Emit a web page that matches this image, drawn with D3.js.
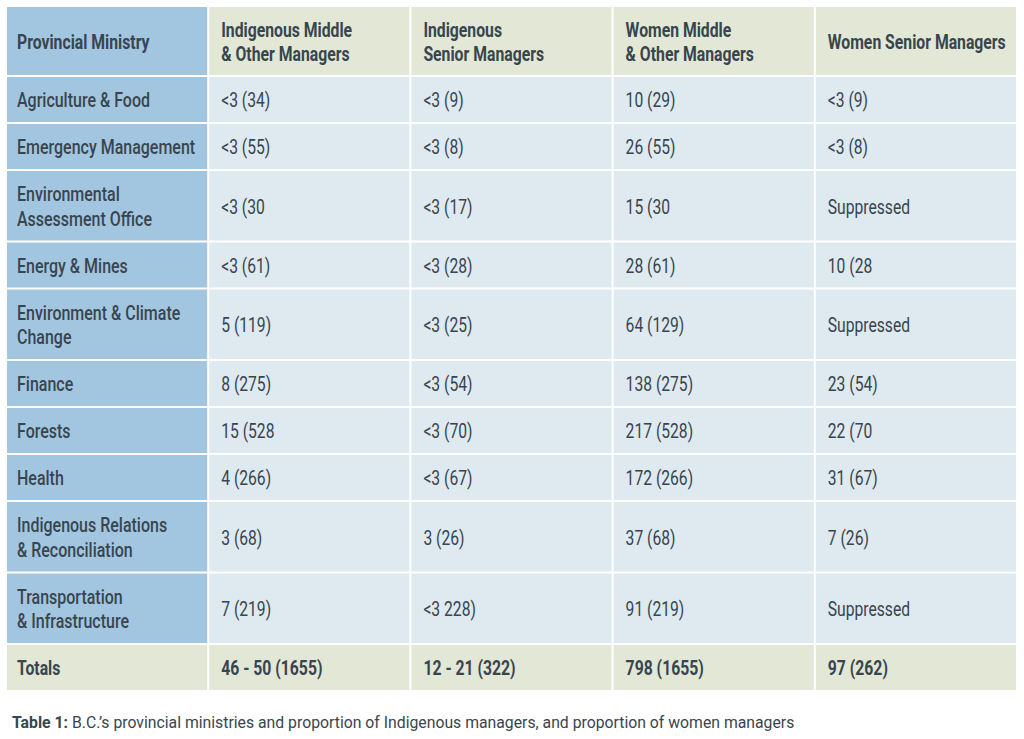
<!DOCTYPE html>
<html>
<head>
<meta charset="utf-8">
<script src="https://cdn.jsdelivr.net/npm/d3@7"></script>
<style>
  html, body { margin: 0; padding: 0; background: #ffffff; }
  svg { display: block; }
</style>
</head>
<body>
<svg id="chart" width="1024" height="739"></svg>
<script>
// ---- Data ----
const columns = ["Provincial Ministry", "Indigenous Middle\n& Other Managers", "Indigenous\nSenior Managers", "Women Middle\n& Other Managers", "Women Senior Managers"];
const ministries = ["Agriculture & Food", "Emergency Management", "Environmental\nAssessment Office", "Energy & Mines", "Environment & Climate\nChange", "Finance", "Forests", "Health", "Indigenous Relations\n& Reconciliation", "Transportation\n& Infrastructure"];
const indigenousMiddle = ["<3 (34)", "<3 (55)", "<3 (30", "<3 (61)", "5 (119)", "8 (275)", "15 (528", "4 (266)", "3 (68)", "7 (219)"];
const indigenousSenior = ["<3 (9)", "<3 (8)", "<3 (17)", "<3 (28)", "<3 (25)", "<3 (54)", "<3 (70)", "<3 (67)", "3 (26)", "<3 228)"];
const womenMiddle = ["10 (29)", "26 (55)", "15 (30", "28 (61)", "64 (129)", "138 (275)", "217 (528)", "172 (266)", "37 (68)", "91 (219)"];
const womenSenior = ["<3 (9)", "<3 (8)", "Suppressed", "10 (28", "Suppressed", "23 (54)", "22 (70", "31 (67)", "7 (26)", "Suppressed"];
const totals = ["Totals", "46 - 50 (1655)", "12 - 21 (322)", "798 (1655)", "97 (262)"];
const caption = ["Table 1:", " B.C.’s provincial ministries and proportion of Indigenous managers, and proportion of women managers"];

// ---- Build rows ----
const rows = [];
rows.push({ type: "header", cells: columns });
ministries.forEach((m, i) => {
  rows.push({ type: "body", cells: [m, indigenousMiddle[i], indigenousSenior[i], womenMiddle[i], womenSenior[i]] });
});
rows.push({ type: "total", cells: totals });

const FONT = "Roboto, 'Noto Sans', sans-serif";
const textColor = "#38454f";
const colBlue = "#a3c6e0";
const headGreen = "#e2e8d5";
const bodyBlue = "#dee9f0";

const svg = d3.select("#chart");

// condensed look: measure reference strings and derive horizontal squeeze
function measure(str, size, weight) {
  const t = svg.append("text").attr("font-family", FONT).attr("font-size", size)
    .attr("font-weight", weight).text(str);
  const w = t.node().getComputedTextLength();
  t.remove();
  return w;
}
const CELL_SIZE = 19.5;
const sxNormal = 133 / measure("Agriculture & Food", CELL_SIZE, 500);
const sxBody = 0.98 * sxNormal;
const sxBold = 178 / measure("Women Senior Managers", CELL_SIZE, "bold");
const CAP_SIZE = 17;
const capW = measure(caption[0], CAP_SIZE, "bold") + measure(caption[1], CAP_SIZE, "normal");
const sxCap = 779 / capW;

const tLeft = 7, tRight = 1016, tTop = 7, gap = 2;
const x = d3.scaleBand().domain(d3.range(columns.length)).range([tLeft, tRight])
  .paddingInner(gap / ((tRight - tLeft) / columns.length)).paddingOuter(0);

function lines(s) { return s.split("\n").length; }
rows.forEach(r => {
  const n = d3.max(r.cells, lines);
  r.h = r.type === "header" ? 68 : (n > 1 ? 69.5 : 45);
});
let yAcc = tTop;
rows.forEach(r => { r.y = yAcc; yAcc += r.h + gap; });

const lineH = 24.5;

rows.forEach((r) => {
  const g = svg.append("g");
  r.cells.forEach((c, ci) => {
    let fill;
    if (r.type === "header") fill = ci === 0 ? colBlue : headGreen;
    else if (r.type === "total") fill = headGreen;
    else fill = ci === 0 ? colBlue : bodyBlue;
    g.append("rect")
      .attr("x", x(ci)).attr("y", r.y)
      .attr("width", x.bandwidth()).attr("height", r.h)
      .attr("fill", fill);
    const ls = c.split("\n");
    const bold = r.type !== "body";
    const medium = r.type === "body" && ci === 0;
    const weight = bold ? "bold" : (medium ? 500 : "normal");
    const sx = bold ? sxBold : (medium ? sxNormal : sxBody);
    const cy = r.y + r.h / 2;
    const tx = x(ci) + (ci === 0 ? 10 : 12);
    const t = g.append("text")
      .attr("transform", `translate(${tx},0) scale(${sx},1)`)
      .attr("font-family", FONT)
      .attr("font-size", CELL_SIZE)
      .attr("font-weight", weight)
      .attr("fill", textColor);
    ls.forEach((l, li) => {
      t.append("tspan")
        .attr("x", 0)
        .attr("y", cy + (li - (ls.length - 1) / 2) * lineH + 7.8)
        .text(l);
    });
  });
});

// caption
const cap = svg.append("text")
  .attr("transform", `translate(12,728) scale(${sxCap},1)`)
  .attr("font-family", FONT)
  .attr("font-size", CAP_SIZE)
  .attr("fill", textColor);
cap.append("tspan").attr("font-weight", "bold").text(caption[0]);
cap.append("tspan").text(caption[1]);
</script>
</body>
</html>
